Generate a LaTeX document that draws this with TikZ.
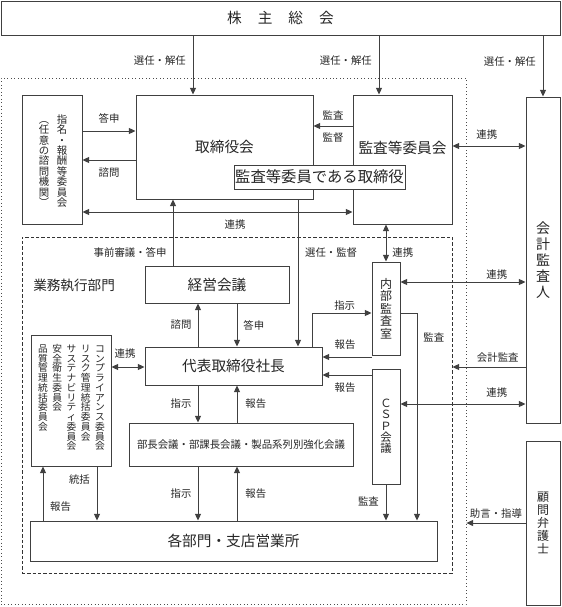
\documentclass[tikz,border=0pt]{standalone}
\usepackage{fontspec}
\setmainfont{Noto Sans CJK JP}
\usetikzlibrary{arrows.meta,positioning}

\newcommand\boxfont{\fontsize{11}{13}\selectfont}
\newcommand\lblfont{\fontsize{7.8}{9}\selectfont}
% one column of vertical text: #1 pitch, #2 characters
\makeatletter
\newcommand\tatecol[2]{\vtop{\baselineskip=#1\lineskiplimit=-20pt\relax
  \@tfor\tate@c:=#2\do{\hbox to #1{\hss\tate@c\hss}}}}
\makeatother

\tikzset{
  box/.style={draw=black!75, line width=0.7pt, fill=white, inner sep=0pt, text=black!85, font=\boxfont},
  lbl/.style={font=\lblfont, text=black!85, inner sep=1.5pt},
  tate/.style={inner sep=0pt, text=black!85},
  arr/.style={draw=black!75, line width=0.7pt, -{Triangle[length=5pt,width=4.5pt]}},
  darr/.style={draw=black!75, line width=0.7pt, {Triangle[length=5pt,width=4.5pt]}-{Triangle[length=5pt,width=4.5pt]}},
}

\begin{document}
\begin{tikzpicture}[x=0.75pt, y=-0.75pt]
	\useasboundingbox (0,0) rectangle (561,607);

	% areas
	\node[draw=black!70, line width=0.6pt, dotted, minimum width=348.75pt, minimum height=394.5pt] (kaisha) at (233.5,341) {};
	\node[draw=black!80, line width=0.7pt, dash pattern=on 2.5pt off 1.5pt, minimum width=322.5pt, minimum height=252pt] (gyomu) at (237,405) {};
	\node[anchor=west, inner sep=0pt, text=black!85, font=\fontsize{10.2}{12}\selectfont] (gyomutxt) at (33,285) {業務執行部門};

	% boxes
	\node[box, minimum width=419.25pt, minimum height=25.5pt] (kabunushi) at (280.5,18) {株\hspace{12pt}主\hspace{12pt}総\hspace{12pt}会};
	\node[box, minimum width=45pt, minimum height=96.75pt] (shimei) at (52,159.5) {};
	\node[box, minimum width=132.75pt, minimum height=78pt] (torishimari) at (224.5,147) {取締役会};
	\node[box, minimum width=74.25pt, minimum height=96.75pt, label={[yshift=8.6pt, font=\boxfont, text=black!85]center:監査等委員会}] (kansaiin) at (402.5,159.5) {};
	\node[box, minimum width=25.5pt, minimum height=244.5pt] (kaikei) at (543,260) {};
	\node[box, minimum width=21pt, minimum height=69.75pt] (naibu) at (386,308.5) {};
	\node[box, minimum width=108pt, minimum height=27.75pt] (keiei) at (217,284.5) {経営会議};
	\node[box, minimum width=132.75pt, minimum height=28.5pt] (shacho) at (233.5,366) {代表取締役社長};
	\node[box, minimum width=60pt, minimum height=98.25pt] (iinkai) at (71,400.5) {};
	\node[box, minimum width=168pt, minimum height=32.25pt, font=\lblfont] (bucho) at (241,444.5) {部長会議・部課長会議・製品系列別強化会議};
	\node[box, minimum width=21pt, minimum height=86.25pt] (csp) at (386,426.5) {};
	\node[box, minimum width=305.25pt, minimum height=30pt] (kakubu) at (233.5,541) {各部門・支店営業所};
	\node[box, minimum width=25.5pt, minimum height=123pt] (komon) at (543,523) {};

	% vertical texts
	\node[tate, font=\fontsize{7.8}{9}\selectfont] (shimeitxt) at (53,161) {\tatecol{7.8pt}{︵任意の諮問機関︶}\hspace{5.7pt}\tatecol{7.8pt}{指名・報酬等委員会}};
	\node[tate, anchor=north, font=\fontsize{7.3}{9}\selectfont] (iinkaitxt) at (71.5,344) {\tatecol{7.3pt}{品質管理統括委員会}\hspace{3.4pt}\tatecol{7.3pt}{安全衛生委員会}\hspace{3.4pt}\tatecol{7.3pt}{サステナビリティ委員会}\hspace{3.4pt}\tatecol{7.3pt}{リスク管理統括委員会}\hspace{3.4pt}\tatecol{7.3pt}{コンプライアンス委員会}};
	\node[tate, font=\fontsize{10.5}{12}\selectfont] (kaikeitxt) at (kaikei) {\tatecol{12pt}{会計監査人}};
	\node[tate, font=\fontsize{9}{11}\selectfont] (naibutxt) at (naibu) {\tatecol{9.3pt}{内部監査室}};
	\node[tate, font=\fontsize{8.5}{10}\selectfont] (csptxt) at (csp) {\tatecol{8.5pt}{ＣＳＰ会議}};
	\node[tate, font=\fontsize{9}{11}\selectfont] (komontxt) at (komon) {\tatecol{9.75pt}{顧問弁護士}};

	% connector levels
	\foreach \n/\x in {xtori/193, xkan/379, xjizen/173, xsennin/298, xshimon/198, xtoshin/237, xshiji/312, xkansa/417, xhoukoku/43, xtokatsu/97}
		\coordinate (\n) at (\x,0);
	\foreach \n/\y in {ytoshin/131, yshimon/160, yrenkei/212, ykansa/126, yrenkei2/146, yrenkei3/282, yhoukoku1/357, yhoukoku2/375, yrenkei4/404, ykaikei/367, yshiji/313, yjogen/523}
		\coordinate (\n) at (0,\y);

	% general meeting
	\draw[arr] (kabunushi.south -| xtori) -- node[lbl, pos=0.43, left=3.5pt] {選任・解任} (torishimari.north -| xtori);
	\draw[arr] (kabunushi.south -| xkan) -- node[lbl, pos=0.43, left=3.5pt] {選任・解任} (kansaiin.north -| xkan);
	\draw[arr] (kabunushi.south -| kaikei.north) -- node[lbl, pos=0.42, left=3.5pt] {選任・解任} (kaikei.north);

	% board
	\draw[arr] (shimei.east |- ytoshin) -- node[lbl, above=3.6pt] {答申} (torishimari.west |- ytoshin);
	\draw[arr] (torishimari.west |- yshimon) -- node[lbl, below=3.6pt] {諮問} (shimei.east |- yshimon);
	\draw[darr] (shimei.east |- yrenkei) -- node[lbl, pos=0.565, below=3.6pt] {連携} (kansaiin.west |- yrenkei);
	\draw[arr] (kansaiin.west |- ykansa) -- node[lbl, above=2.9pt] {監査} node[lbl, below=2.9pt] {監督} (torishimari.east |- ykansa);
	\draw[darr] (kansaiin.east |- yrenkei2) -- node[lbl, pos=0.47, above=2.9pt] {連携} (kaikei.west |- yrenkei2);
	\draw[arr] (keiei.north -| xjizen) -- node[lbl, pos=0.19, left=3pt] {事前審議・答申} (torishimari.south -| xjizen);
	\draw[arr] (torishimari.south -| xsennin) -- node[lbl, pos=0.36, right=3.5pt] {選任・監督} (shacho.north -| xsennin);
	\draw[darr] (kansaiin.south -| naibu.north) -- node[lbl, pos=0.76, right=3pt] {連携} (naibu.north);

	% executive
	\draw[arr] (shacho.north -| xshimon) -- node[lbl, left=3pt] {諮問} (keiei.south -| xshimon);
	\draw[arr] (keiei.south -| xtoshin) -- node[lbl, right=3pt] {答申} (shacho.north -| xtoshin);
	\draw[darr] (iinkai.east |- ykaikei) -- node[lbl, pos=0.41, above=4.4pt] {連携} (shacho.west |- ykaikei);
	\draw[arr] (naibu.west |- yhoukoku1) -- node[lbl, pos=0.54, above=3.6pt] {報告} (shacho.east |- yhoukoku1);
	\draw[arr] (csp.west |- yhoukoku2) -- node[lbl, pos=0.54, below=3.6pt] {報告} (shacho.east |- yhoukoku2);
	\draw[arr] (shacho.north -| xshiji) |- node[lbl, pos=0.775, above=0pt] {指示} (naibu.west |- yshiji);
	\draw[arr] (naibu.east |- yshiji) -| node[lbl, pos=0.56, right=3pt] {監査} (kakubu.north -| xkansa);
	\draw[arr] (csp.south) -- node[lbl, pos=0.46, left=3.5pt] {監査} (kakubu.north -| csp.south);
	\draw[darr] (naibu.east |- yrenkei3) -- node[lbl, pos=0.77, above=0pt] {連携} (kaikei.west |- yrenkei3);
	\draw[darr] (csp.east |- yrenkei4) -- node[lbl, pos=0.77, above=2.9pt] {連携} (kaikei.west |- yrenkei4);
	\draw[arr] (kaikei.west |- ykaikei) -- node[lbl, pos=0.38, above=2pt] {会計監査} (gyomu.east |- ykaikei);

	\draw[arr] (shacho.south -| xshimon) -- node[lbl, left=3pt] {指示} (bucho.north -| xshimon);
	\draw[arr] (bucho.north -| xtoshin) -- node[lbl, right=4.5pt] {報告} (shacho.south -| xtoshin);
	\draw[arr] (bucho.south -| xshimon) -- node[lbl, left=3pt] {指示} (kakubu.north -| xshimon);
	\draw[arr] (kakubu.north -| xtoshin) -- node[lbl, right=4.5pt] {報告} (bucho.south -| xtoshin);
	\draw[arr] (kakubu.north -| xhoukoku) -- node[lbl, pos=0.25, right=3.5pt] {報告} (iinkai.south -| xhoukoku);
	\draw[arr] (iinkai.south -| xtokatsu) -- node[lbl, pos=0.25, left=3.5pt] {統括} (kakubu.north -| xtokatsu);
	\draw[arr] (komon.west |- yjogen) -- node[lbl, above=2pt] {助言・指導} (kaisha.east |- yjogen);

	% director on the audit committee
	\node[box, minimum width=128.25pt, minimum height=18pt, font=\fontsize{11.5}{13}\selectfont] (kantori) at (319.5,177) {監査等委員である取締役};
\end{tikzpicture}
\end{document}
